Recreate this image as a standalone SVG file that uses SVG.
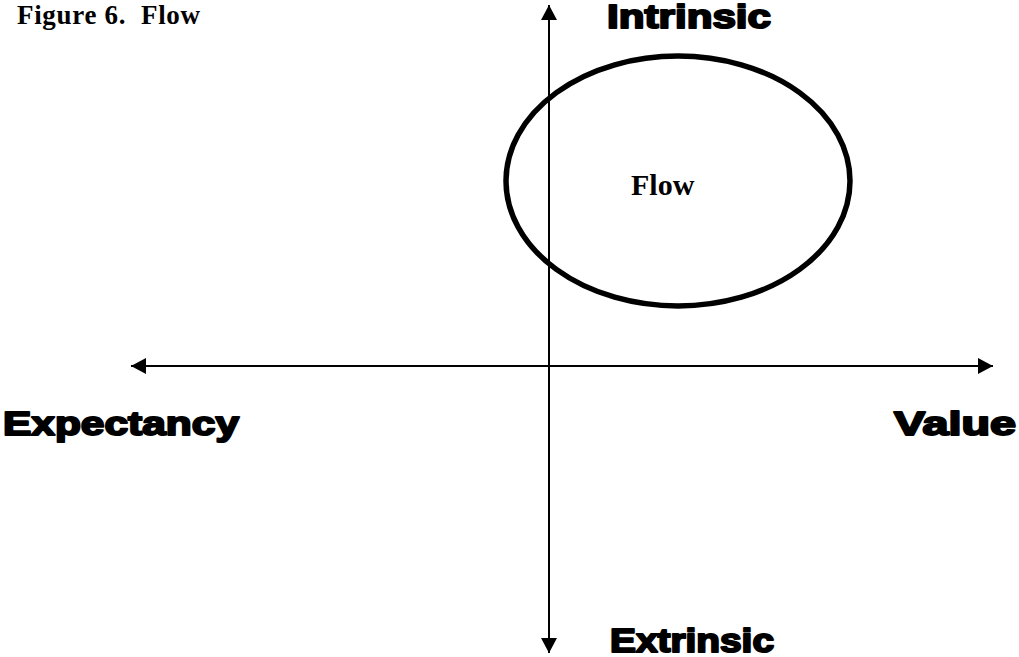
<svg xmlns="http://www.w3.org/2000/svg" width="1019" height="657" viewBox="0 0 1019 657">
<style>
.ax{stroke:#000;stroke-width:2;fill:none}
.big{font-family:"Liberation Sans",Arial,sans-serif;font-weight:bold;font-size:33px;fill:#000;stroke:#000;stroke-width:2;stroke-linejoin:round}
.ser{font-family:"Liberation Serif","Times New Roman",serif;font-weight:bold;fill:#000}
</style>
<defs>
<marker id="ah" markerWidth="15" markerHeight="16" refX="15" refY="8" orient="auto" markerUnits="userSpaceOnUse">
<path d="M0,0 L15,8 L0,16 Z" fill="#000"/>
</marker>
</defs>
<rect width="1019" height="657" fill="#fff"/>
<text class="ser" x="17" y="24" font-size="27" xml:space="preserve" textLength="183" lengthAdjust="spacing">Figure 6.  Flow</text>
<g id="connectors">
<line class="ax" x1="549" y1="340" x2="549" y2="5" marker-end="url(#ah)"/>
<line class="ax" x1="549" y1="340" x2="549" y2="653" marker-end="url(#ah)"/>
<line class="ax" x1="560" y1="366" x2="131" y2="366" marker-end="url(#ah)"/>
<line class="ax" x1="540" y1="366" x2="993" y2="366" marker-end="url(#ah)"/>
</g>
<g id="flow">
<ellipse cx="678" cy="181" rx="172" ry="125" fill="none" stroke="#000" stroke-width="5.5"/>
<text class="ser" x="631" y="195" font-size="30">Flow</text>
</g>
<g id="intrinsic"><text class="big" x="607" y="28" textLength="164" lengthAdjust="spacingAndGlyphs">Intrinsic</text></g>
<g id="extrinsic"><text class="big" x="610" y="652" textLength="164" lengthAdjust="spacingAndGlyphs">Extrinsic</text></g>
<g id="expectancy"><text class="big" x="3" y="435" textLength="236" lengthAdjust="spacingAndGlyphs">Expectancy</text></g>
<g id="value"><text class="big" x="894" y="435" textLength="122" lengthAdjust="spacingAndGlyphs">Value</text></g>
</svg>
